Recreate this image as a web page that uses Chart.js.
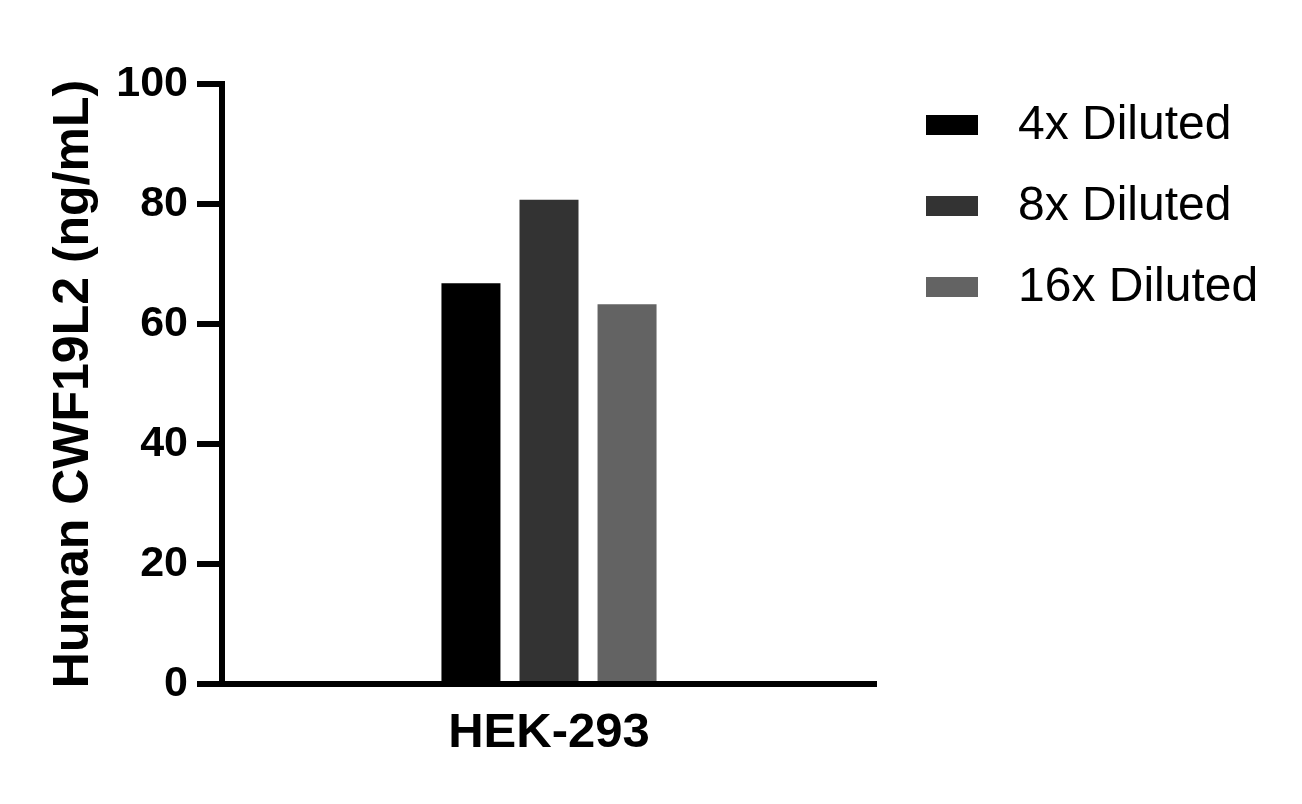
<!DOCTYPE html>
<html>
<head>
<meta charset="utf-8">
<script src="https://cdn.jsdelivr.net/npm/chart.js@4.4.0/dist/chart.umd.min.js"></script>
<style>
  html, body { margin: 0; padding: 0; background: #fff; }
  #wrap { width: 1302px; height: 804px; }
</style>
</head>
<body>
<div id="wrap"><canvas id="barChart" width="1302" height="804"></canvas></div>
<script>
// data
const categories = ['HEK-293'];
const seriesNames = ['4x Diluted', '8x Diluted', '16x Diluted'];
const seriesColors = ['#000000', '#333333', '#636363'];
const diluted4x = [66.8];
const diluted8x = [80.7];
const diluted16x = [63.3];
const yMin = 0, yMax = 100, yStep = 20;
const yTitle = 'Human CWF19L2 (ng/mL)';

const FONT = '"Liberation Sans", Arial, sans-serif';

// legend on the right, drawn by hand so boxes and text sit where the original has them
const sideLegend = {
    id: 'sideLegend',
    afterDraw(chart) {
        const ctx = chart.ctx;
        ctx.save();
        ctx.font = '48px ' + FONT;
        ctx.textBaseline = 'middle';
        ctx.textAlign = 'left';
        chart.data.datasets.forEach((ds, i) => {
            const y = 125 + i * 81;
            ctx.fillStyle = ds.backgroundColor;
            ctx.fillRect(926, y - 10, 52, 20);
            ctx.fillStyle = '#000';
            ctx.fillText(ds.label, 1018, y + 1);
        });
        ctx.restore();
    }
};

const seriesValues = [diluted4x, diluted8x, diluted16x];
const barChart = new Chart(document.getElementById('barChart').getContext('2d'), {
    type: 'bar',
    data: {
        labels: categories,
        datasets: seriesNames.map((name, i) => ({
            label: name,
            data: seriesValues[i],
            backgroundColor: seriesColors[i],
            borderWidth: 0,
            barPercentage: 0.756,
            categoryPercentage: 0.358
        }))
    },
    options: {
        responsive: false,
        animation: false,
        devicePixelRatio: 1,
        layout: { padding: { top: 84, right: 426, left: 0, bottom: 0 } },
        plugins: {
            legend: { display: false },
            tooltip: { enabled: false }
        },
        scales: {
            x: {
                grid: { display: false, drawTicks: false },
                border: { display: true, color: '#000', width: 6 },
                ticks: { color: '#000', padding: 20, font: { family: FONT, size: 49, weight: 'bold' } },
                afterFit(s) { s.height = 120; }
            },
            y: {
                min: yMin,
                max: yMax,
                ticks: { stepSize: yStep, color: '#000', padding: 9, font: { family: FONT, size: 43, weight: 'bold' } },
                grid: { drawOnChartArea: false, drawTicks: true, tickLength: 25, lineWidth: 6, color: '#000' },
                border: { display: true, color: '#000', width: 6 },
                title: {
                    display: true,
                    text: yTitle,
                    color: '#000',
                    padding: { top: 44, bottom: 0 },
                    font: { family: FONT, size: 50, weight: 'bold' }
                },
                afterFit(s) { s.width = 222; }
            }
        }
    },
    plugins: [sideLegend]
});
</script>
</body>
</html>
